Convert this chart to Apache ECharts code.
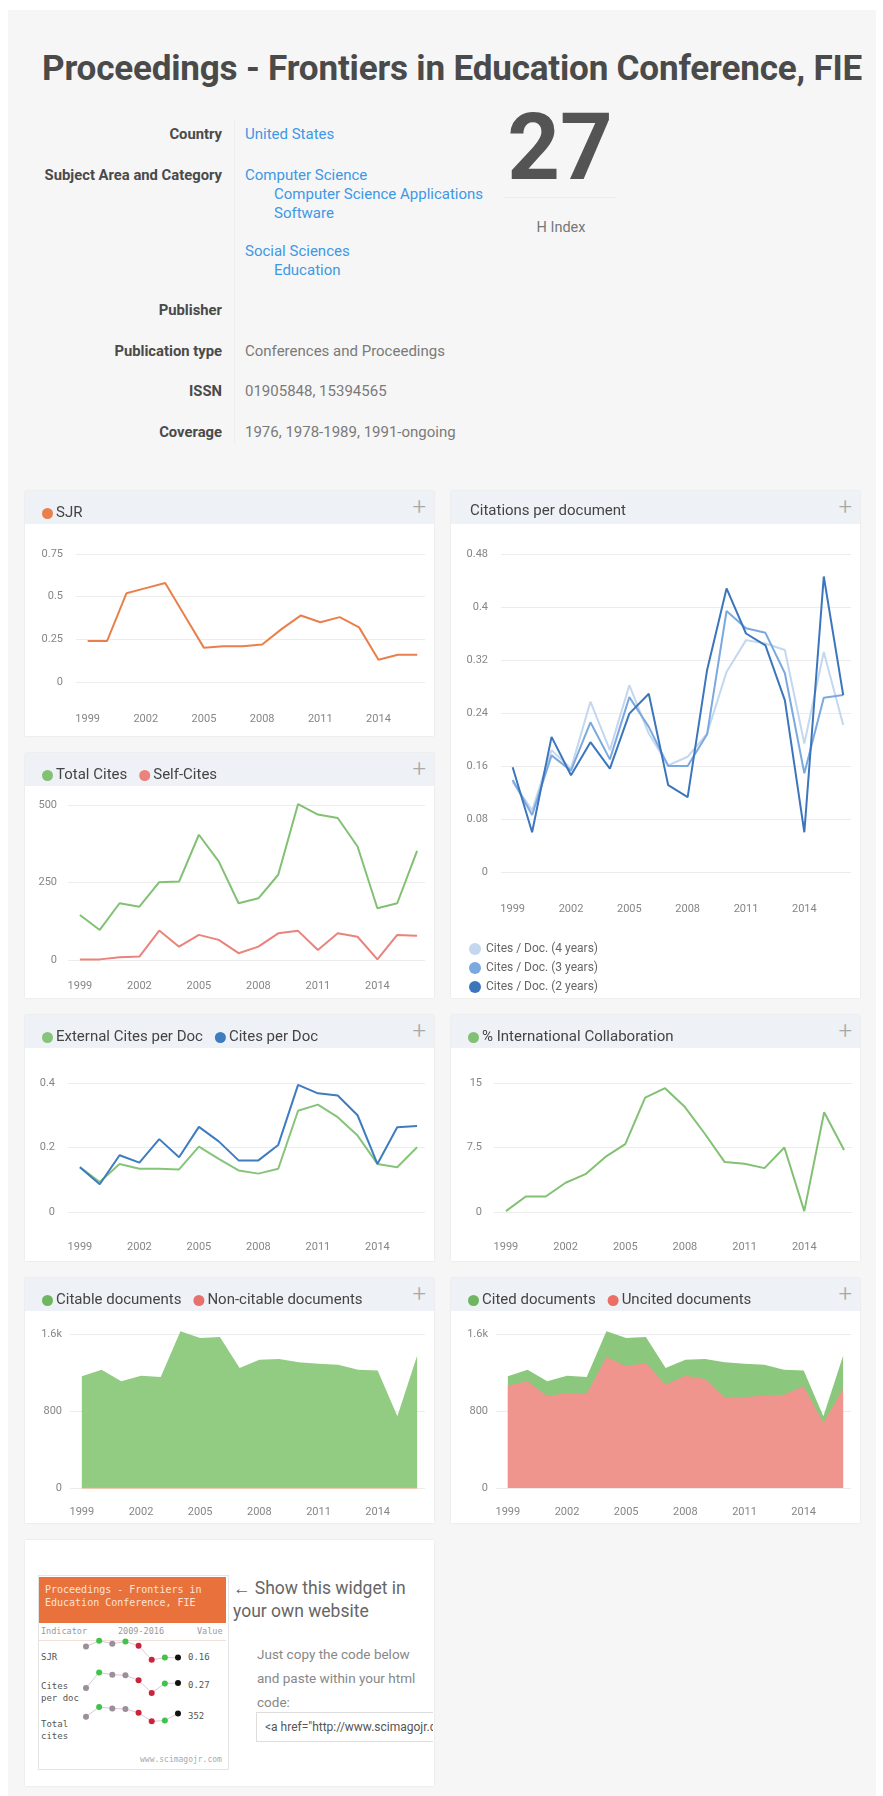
<!DOCTYPE html>
<html>
<head>
<meta charset="utf-8">
<script src="https://cdn.jsdelivr.net/npm/echarts@6/dist/echarts.min.js"></script>
<style>
  html,body{margin:0;padding:0;background:#ffffff;font-family:Roboto,"Noto Sans",Arial,sans-serif;}
  #page{position:absolute;left:8px;top:10px;width:868px;height:1786px;background:#f6f6f6;}
  .abs{position:absolute;white-space:nowrap;}
  .title{left:42px;top:44px;font-size:31px;font-weight:700;color:#4a4a4a;letter-spacing:-0.2px;}
  .lbl{font-size:14.8px;font-weight:700;color:#4a4a4a;text-align:right;width:222px;left:0;line-height:18px;}
  .val{font-size:15px;color:#7a7a7a;left:245px;line-height:18px;}
  .lnk{font-size:15px;color:#3d98e6;line-height:18px;}
  .panel{position:absolute;background:#fff;box-shadow:0 0 2px rgba(0,0,0,0.10);}
  .phead{position:absolute;left:0;top:0;right:0;height:33px;background:#eef1f5;}
  .plus{position:absolute;right:8px;top:4px;font-size:24px;font-weight:300;color:#a8a8a8;line-height:24px;}
  .chart{position:absolute;left:0;top:0;right:0;bottom:0;}
</style>
</head>
<body>
<div id="page"></div>
<script>
// ---------------- DATA ----------------
const years = [1999,2000,2001,2002,2003,2004,2005,2006,2007,2008,2009,2010,2011,2012,2013,2014,2015,2016];
const xTickYears = [1999,2002,2005,2008,2011,2014];

const sjr = [0.24,0.24,0.52,0.55,0.58,0.39,0.20,0.21,0.21,0.22,0.31,0.39,0.35,0.38,0.32,0.13,0.16,0.16];

const citesDoc4y = [0.136,0.093,0.184,0.156,0.257,0.184,0.282,0.209,0.161,0.174,0.209,0.302,0.350,0.345,0.335,0.194,0.332,0.222];
const citesDoc3y = [0.139,0.086,0.176,0.153,0.226,0.170,0.264,0.219,0.160,0.160,0.208,0.394,0.368,0.361,0.300,0.149,0.263,0.267];
const citesDoc2y = [0.158,0.060,0.204,0.146,0.196,0.156,0.239,0.269,0.131,0.113,0.305,0.428,0.360,0.342,0.259,0.060,0.446,0.267];

const totalCites = [145,97,183,172,251,253,404,318,183,199,275,503,469,458,366,167,183,352];
const selfCites  = [2,2,9,11,95,43,81,65,22,43,86,94,32,86,75,2,81,78];

const externalCitesPerDoc = [0.139,0.093,0.149,0.134,0.134,0.132,0.203,0.165,0.129,0.119,0.134,0.314,0.333,0.294,0.237,0.149,0.139,0.201];

const intlCollab = [0.1,1.8,1.8,3.4,4.4,6.4,7.9,13.3,14.4,12.2,9.1,5.8,5.6,5.1,7.5,0.1,11.6,7.2];

const citableDocs    = [1160,1229,1108,1167,1153,1628,1558,1569,1247,1333,1340,1306,1292,1281,1229,1222,745,1375];
const nonCitableDocs = [0,0,0,0,0,0,0,0,0,0,0,0,0,0,0,0,0,0];
const uncitedDocs    = [1063,1108,952,987,980,1361,1264,1299,1073,1167,1132,935,945,959,970,1056,675,1028];
const citedDocs      = [97,121,156,180,173,267,294,270,174,166,208,371,347,322,259,166,70,347];

const widgetYears = [2009,2010,2011,2012,2013,2014,2015,2016];

// ---------------- PAGE TEXT ----------------
const page = document.getElementById('page');
function add(html, cls, x, y, extra) {
  const d = document.createElement('div');
  d.className = 'abs ' + (cls||'');
  d.innerHTML = html;
  if (x !== null && x !== undefined) d.style.left = (x-8) + 'px';
  d.style.top = (y-10) + 'px';
  if (extra) Object.assign(d.style, extra);
  page.appendChild(d);
  return d;
}
const t = add('Proceedings - Frontiers in Education Conference, FIE','title',42,47);
(function(){ const w = t.getBoundingClientRect().width; const fs = 31*819/w; t.style.fontSize = fs+'px'; })();

// y values below are text-line centres
function lbl(text,yc){ const d=add(text,'lbl',null,yc-9); d.style.left='-8px'; }
function vtx(text,cls,x,yc){ return add(text,cls,x,yc-9); }
lbl('Country',134); vtx('United States','lnk',245,134);
lbl('Subject Area and Category',175);
vtx('Computer Science','lnk',245,175);
vtx('Computer Science Applications','lnk',274,194);
vtx('Software','lnk',274,213);
vtx('Social Sciences','lnk',245,251);
vtx('Education','lnk',274,270);
lbl('Publisher',310);
lbl('Publication type',351); vtx('Conferences and Proceedings','val',245,351);
lbl('ISSN',391); vtx('01905848, 15394565','val',245,391);
lbl('Coverage',432); vtx('1976, 1978-1989, 1991-ongoing','val',245,432);
add('','',234,120,{width:'1px',height:'325px',background:'#efefef'});
add('27','',503,98,{fontSize:'92px',fontWeight:'700',color:'#545454',width:'114px',textAlign:'center',lineHeight:'100px'});
add('','',503,197,{width:'114px',height:'1px',background:'#ececec'});
add('H Index','',501,219,{fontSize:'14.5px',color:'#777',width:'120px',textAlign:'center'});

// ---------------- PANELS ----------------
function panel(x,y,w,h,noHeader){
  const p = document.createElement('div');
  p.className='panel';
  p.style.left=(x-8)+'px'; p.style.top=(y-10)+'px'; p.style.width=w+'px'; p.style.height=h+'px';
  if(!noHeader){
    const hd=document.createElement('div'); hd.className='phead'; p.appendChild(hd);
    const pl=document.createElement('div'); pl.className='plus'; pl.textContent='+'; p.appendChild(pl);
  }
  const c=document.createElement('div'); c.className='chart'; p.appendChild(c);
  page.appendChild(p);
  return c;
}

const axisLabelColor = '#868686';
function xAxis(margin){
  return {type:'value',min:1998.4,max:2016.4,
    axisLine:{show:false},axisTick:{show:false},splitLine:{show:false},
    axisLabel:{customValues:xTickYears,formatter:v=>String(v),color:axisLabelColor,fontSize:11,margin:margin,fontFamily:'Roboto'}};
}
function yAxis(max,interval,margin,fmt){
  return {type:'value',min:0,max:max,interval:interval,
    axisLine:{show:false},axisTick:{show:false},
    splitLine:{lineStyle:{color:'#ececec',width:1}},
    axisLabel:{color:axisLabelColor,fontSize:11,margin:margin,fontFamily:'Roboto',formatter:fmt}};
}
function pairs(arr){ return years.map((yr,i)=>[yr,arr[i]]); }
function sumArr(a,b){ return a.map((v,i)=>v+b[i]); }
function lineS(name,arr,color,extra){
  return Object.assign({name:name,type:'line',data:pairs(arr),showSymbol:false,symbol:'none',clip:false,
    lineStyle:{color:color,width:2},itemStyle:{color:color},emphasis:{disabled:true}},extra||{});
}
function legendTop(items){
  return {top:10,left:12,icon:'circle',itemWidth:11,itemHeight:11,itemGap:12,
    textStyle:{fontSize:15,color:'#444',fontFamily:'Roboto',padding:[0,0,0,-2]},data:items,selectedMode:false};
}
function mk(el,opt){ const ch=echarts.init(el,null,{renderer:'canvas'}); opt.animation=false; ch.setOption(opt); return ch; }

// SJR
mk(panel(25,491,409,245),{
  legend:legendTop(['SJR']),
  grid:{left:51,right:9,top:63,bottom:54},
  xAxis:xAxis(32), yAxis:yAxis(0.75,0.25,13),
  series:[lineS('SJR',sjr,'#e9804c')]
});

// Citations per document
mk(panel(451,491,409,507),{
  title:{text:'Citations per document',left:14,top:8,textStyle:{fontSize:15,fontWeight:'normal',color:'#444',fontFamily:'Roboto'}},
  legend:{orient:'vertical',left:13,top:447,icon:'circle',itemWidth:12,itemHeight:12,itemGap:7,selectedMode:false,
    textStyle:{fontSize:12,color:'#666',fontFamily:'Roboto'},
    data:['Cites / Doc. (4 years)','Cites / Doc. (3 years)','Cites / Doc. (2 years)']},
  grid:{left:50,right:9,top:63,bottom:126},
  xAxis:xAxis(32), yAxis:yAxis(0.48,0.08,13),
  series:[
    lineS('Cites / Doc. (4 years)',citesDoc4y,'#c3d7ef'),
    lineS('Cites / Doc. (3 years)',citesDoc3y,'#7ba9df'),
    lineS('Cites / Doc. (2 years)',citesDoc2y,'#3b76bd')
  ]
});

// Total cites / self cites
mk(panel(25,753,409,245),{
  legend:legendTop(['Total Cites','Self-Cites']),
  grid:{left:43,right:9,top:52,bottom:38},
  xAxis:xAxis(21), yAxis:yAxis(500,250,11),
  series:[lineS('Total Cites',totalCites,'#82c173'),lineS('Self-Cites',selfCites,'#e9837b')]
});

// External cites per doc
mk(panel(25,1015,409,246),{
  legend:legendTop(['External Cites per Doc','Cites per Doc']),
  grid:{left:43,right:9,top:68,bottom:49},
  xAxis:xAxis(30), yAxis:yAxis(0.4,0.2,13),
  series:[lineS('External Cites per Doc',externalCitesPerDoc,'#86c47a'),lineS('Cites per Doc',citesDoc3y,'#3e7cc0')]
});

// International collaboration
mk(panel(451,1015,409,246),{
  legend:legendTop(['% International Collaboration']),
  grid:{left:43,right:8,top:68,bottom:49},
  xAxis:xAxis(30), yAxis:yAxis(15,7.5,12),
  series:[lineS('% International Collaboration',intlCollab,'#82c173')]
});

// Citable / non-citable documents (stack built manually: upper band = sum)
const kfmt = v => v>=1000 ? (v/1000)+'k' : String(v);
mk(panel(25,1278,409,245),{
  legend:legendTop(['Citable documents','Non-citable documents']),
  grid:{left:45,right:9,top:56,bottom:35},
  xAxis:xAxis(19), yAxis:yAxis(1600,800,8,kfmt),
  series:[
    lineS('Citable documents',sumArr(citableDocs,nonCitableDocs),'#92cb82',{lineStyle:{width:0},areaStyle:{color:'#92cb82',opacity:1},itemStyle:{color:'#6fb562'},z:2}),
    lineS('Non-citable documents',nonCitableDocs,'#e57a6e',{lineStyle:{width:1.2,color:'#f2a878'},areaStyle:{color:'#e57373',opacity:1},itemStyle:{color:'#e8716d'},z:3})
  ]
});

// Cited / uncited documents
mk(panel(451,1278,409,245),{
  legend:legendTop(['Cited documents','Uncited documents']),
  grid:{left:45,right:9,top:56,bottom:35},
  xAxis:xAxis(19), yAxis:yAxis(1600,800,8,kfmt),
  series:[
    lineS('Cited documents',sumArr(uncitedDocs,citedDocs),'#8bc77d',{lineStyle:{width:0},areaStyle:{color:'#8bc77d',opacity:1},itemStyle:{color:'#6fb562'},z:2}),
    lineS('Uncited documents',uncitedDocs,'#f0958e',{lineStyle:{width:0},areaStyle:{color:'#f0958e',opacity:1},itemStyle:{color:'#ea6f66'},z:3})
  ]
});

// ---------------- WIDGET PANEL ----------------
const wp = panel(25,1540,409,246,true);
const wpan = wp.parentNode;
const MONO = '"DejaVu Sans Mono",monospace';
function wadd(html,x,y,style){ const d=document.createElement('div'); d.className='abs'; d.innerHTML=html; d.style.left=(x-25)+'px'; d.style.top=(y-1540)+'px'; Object.assign(d.style,style||{}); wpan.appendChild(d); return d; }
wadd('',38,1575,{width:'189px',height:'193px',background:'#fff',border:'1px solid #e4e4e4'});
wadd('Proceedings - Frontiers in<br>Education Conference, FIE',39,1577,{width:'181px',height:'40px',background:'#e9723c',color:'#fde3d3',padding:'6px 0 0 6px',fontSize:'10px',lineHeight:'13px',fontFamily:MONO});
wadd('Indicator',41,1626,{fontSize:'8.5px',color:'#999',fontFamily:MONO});
wadd('2009-2016',118,1626,{fontSize:'8.5px',color:'#999',fontFamily:MONO});
wadd('Value',197,1626,{fontSize:'8.5px',color:'#999',fontFamily:MONO});
wadd('',39,1640,{width:'187px',height:'1px',background:'#f0e0d8'});
wadd('SJR',41,1652,{fontSize:'9px',color:'#555',fontFamily:MONO});
wadd('Cites<br>per doc',41,1680,{fontSize:'9px',lineHeight:'12px',color:'#555',fontFamily:MONO});
wadd('Total<br>cites',41,1718,{fontSize:'9px',lineHeight:'12px',color:'#555',fontFamily:MONO});
wadd(sjr[sjr.length-1].toFixed(2),188,1652,{fontSize:'9px',color:'#555',fontFamily:MONO});
wadd(citesDoc3y[citesDoc3y.length-1].toFixed(2),188,1680,{fontSize:'9px',color:'#555',fontFamily:MONO});
wadd(String(totalCites[totalCites.length-1]),188,1711,{fontSize:'9px',color:'#555',fontFamily:MONO});
wadd('www.scimagojr.com',140,1755,{fontSize:'8px',color:'#aaa',fontFamily:MONO});

const wchartDiv = wadd('',82,1632,{width:'100px',height:'100px'});
(function(){
  const rows = [sjr, citesDoc3y, totalCites];
  const grids=[], xs=[], ys=[], series=[];
  const bands=[[8,30],[40,65],[73,90]];
  rows.forEach((arr,ri)=>{
    const vals = widgetYears.map(y=>arr[years.indexOf(y)]);
    grids.push({left:4,right:4,top:bands[ri][0],height:bands[ri][1]-bands[ri][0]});
    xs.push({type:'value',min:2009,max:2016,show:false,gridIndex:ri});
    ys.push({type:'value',show:false,gridIndex:ri,scale:true});
    const pts = vals.map((v,i)=>{
      let c='#9a8f9a';
      if(i===vals.length-1) c='#111';
      else if(i>0){ const r=(v-vals[i-1])/vals[i-1]; if(r>0.05) c='#3fc34a'; else if(r<-0.15) c='#c8243a'; }
      return {value:[widgetYears[i],v],itemStyle:{color:c}};
    });
    series.push({type:'line',xAxisIndex:ri,yAxisIndex:ri,data:pts,symbol:'circle',symbolSize:6,
      lineStyle:{color:'#dcc7d4',width:1},emphasis:{disabled:true}});
  });
  mk(wchartDiv,{grid:grids,xAxis:xs,yAxis:ys,series:series});
})();

wadd('&larr; Show this widget in<br>your own website',233,1577,{fontSize:'17.5px',lineHeight:'23px',color:'#666'});
wadd('Just copy the code below<br>and paste within your html<br>code:',257,1642,{fontSize:'13.5px',lineHeight:'24px',color:'#888'});
wadd('<div style="padding:7px 8px;font-size:12px;color:#555;border:1px solid #ddd;border-right:none;width:160px;overflow:hidden;white-space:nowrap;">&lt;a href="http://www.scimagojr.com/journalsearch.php?q=28620&amp;tip=sid"&gt;</div>',256,1712,{width:'178px',overflow:'hidden'});
</script>
</body>
</html>
